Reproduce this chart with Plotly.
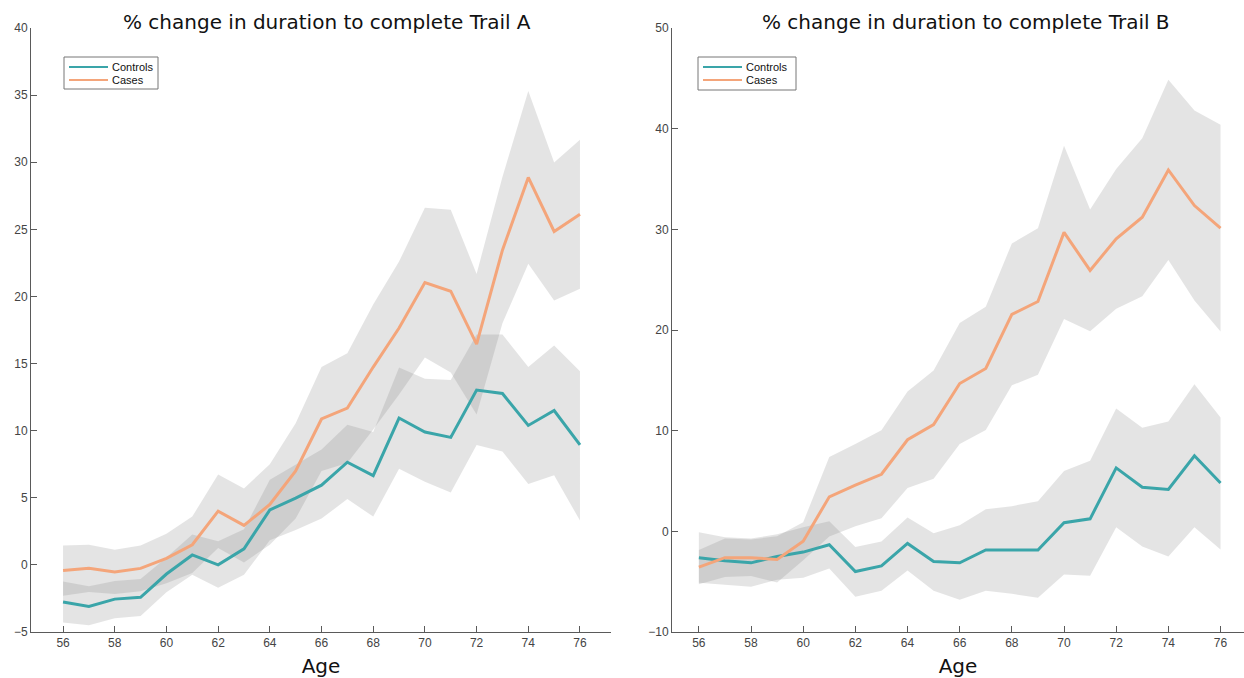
import plotly.graph_objects as go

ages = list(range(56, 77))

# Trail A: mean % change and confidence band
a_controls = [-2.77, -3.10, -2.55, -2.42, -0.68, 0.74, 0.00, 1.20, 4.10, 4.97, 5.94,
              7.65, 6.65, 10.94, 9.90, 9.50, 13.03, 12.77, 10.39, 11.50, 8.94]
a_controls_hi = [-1.24, -1.60, -1.20, -1.06, 0.55, 2.26, 1.77, 2.65, 6.35, 7.50, 8.60,
                 10.45, 9.90, 14.70, 13.87, 13.77, 17.16, 17.16, 14.74, 16.35, 14.42]
a_controls_lo = [-4.30, -4.50, -3.97, -3.80, -2.03, -0.74, -1.70, -0.74, 1.84, 2.60, 3.45,
                 4.90, 3.60, 7.16, 6.20, 5.40, 8.94, 8.45, 6.03, 6.68, 3.30]
a_cases = [-0.42, -0.26, -0.52, -0.26, 0.48, 1.50, 4.00, 2.94, 4.50, 7.00, 10.87,
           11.68, 14.74, 17.65, 21.03, 20.39, 16.45, 23.45, 28.87, 24.84, 26.13]
a_cases_hi = [1.45, 1.50, 1.13, 1.45, 2.32, 3.60, 6.74, 5.70, 7.50, 10.55, 14.74,
              15.77, 19.40, 22.60, 26.60, 26.45, 21.68, 28.90, 35.30, 29.97, 31.68]
a_cases_lo = [-2.29, -2.02, -2.17, -1.97, -1.36, -0.60, 1.26, 0.18, 1.50, 3.45, 7.00,
              7.59, 10.08, 12.70, 15.46, 14.33, 11.20, 18.00, 22.44, 19.70, 20.58]

# Trail B: mean % change and confidence band
b_controls = [-2.62, -2.92, -3.13, -2.49, -2.06, -1.33, -3.99, -3.43, -1.20, -3.00, -3.13,
              -1.85, -1.85, -1.85, 0.86, 1.24, 6.30, 4.38, 4.16, 7.50, 4.80]
b_controls_hi = [-0.10, -0.60, -0.70, -0.30, 0.40, 1.00, -1.55, -1.00, 1.37, -0.20, 0.60,
                 2.20, 2.50, 3.00, 6.00, 7.00, 12.20, 10.30, 10.90, 14.60, 11.30]
b_controls_lo = [-5.10, -5.30, -5.50, -4.80, -4.60, -3.70, -6.50, -5.90, -3.90, -5.90, -6.80,
                 -5.90, -6.20, -6.60, -4.30, -4.40, 0.40, -1.50, -2.50, 0.40, -1.80]
b_cases = [-3.56, -2.62, -2.62, -2.79, -0.99, 3.43, 4.59, 5.67, 9.10, 10.60, 14.68,
           16.18, 21.55, 22.83, 29.70, 25.92, 29.06, 31.20, 35.90, 32.36, 30.13]
b_cases_hi = [-1.86, -0.70, -0.80, -0.50, 0.90, 7.38, 8.67, 10.04, 13.90, 15.97, 20.69,
              22.30, 28.60, 30.10, 38.30, 31.97, 36.00, 39.05, 44.85, 41.80, 40.40]
b_cases_lo = [-5.26, -4.54, -4.44, -5.08, -2.88, -0.52, 0.51, 1.30, 4.30, 5.23, 8.67,
              10.06, 14.50, 15.56, 21.10, 19.87, 22.12, 23.35, 26.95, 22.92, 19.86]

series_names = ["Controls", "Cases"]
titles = ["% change in duration to complete Trail A",
          "% change in duration to complete Trail B"]

TEAL = "#3aa5a9"
ORANGE = "#f4a57a"
BAND = "rgba(128,128,128,0.21)"
W, H = 1244, 678

panels = [
    dict(xaxis="x", yaxis="y",
         series=[(a_controls, a_controls_lo, a_controls_hi), (a_cases, a_cases_lo, a_cases_hi)],
         legend_box=(64, 57, 158, 89), title_x=327),
    dict(xaxis="x2", yaxis="y2",
         series=[(b_controls, b_controls_lo, b_controls_hi), (b_cases, b_cases_lo, b_cases_hi)],
         legend_box=(698, 57, 796, 90), title_x=966),
]
colors = [TEAL, ORANGE]

fig = go.Figure()
shapes, annotations = [], []
title_font = dict(family="DejaVu Sans, Verdana, sans-serif", size=20, color="#111111")
legend_font = dict(family="Liberation Sans, Arial, sans-serif", size=11, color="#111111")


def px(x, y):
    """Pixel position -> paper coordinates."""
    return x / W, 1 - y / H


for k, p in enumerate(panels):
    # shaded bands first, so the mean lines sit on top
    for mean, lo, hi in p["series"]:
        fig.add_trace(go.Scatter(
            x=ages + ages[::-1], y=hi + lo[::-1],
            fill="toself", fillcolor=BAND, line=dict(width=0),
            mode="lines", hoverinfo="skip", showlegend=False,
            xaxis=p["xaxis"], yaxis=p["yaxis"]))
    for (mean, lo, hi), name, color in zip(p["series"], series_names, colors):
        fig.add_trace(go.Scatter(
            x=ages, y=mean, mode="lines", name=name, showlegend=False,
            line=dict(color=color, width=3),
            xaxis=p["xaxis"], yaxis=p["yaxis"]))

    # compact boxed legend in the upper-left corner of each panel
    x0, y0, x1, y1 = p["legend_box"]
    bx0, by0 = px(x0, y0)
    bx1, by1 = px(x1, y1)
    shapes.append(dict(type="rect", xref="paper", yref="paper", x0=bx0, x1=bx1, y0=by1, y1=by0,
                       line=dict(color="#777777", width=1), fillcolor="white", layer="above"))
    for i, (name, color) in enumerate(zip(series_names, colors)):
        ly = y0 + 10 + 13 * i
        lx0, lyp = px(x0 + 5, ly)
        lx1, _ = px(x0 + 44, ly)
        shapes.append(dict(type="line", xref="paper", yref="paper", x0=lx0, x1=lx1, y0=lyp, y1=lyp,
                           line=dict(color=color, width=2), layer="above"))
        tx, _ = px(x0 + 46, ly)
        annotations.append(dict(text=name, x=tx, y=lyp, xref="paper", yref="paper",
                                showarrow=False, xanchor="left", yanchor="middle",
                                font=legend_font))

    tx, ty = px(p["title_x"], 22)
    annotations.append(dict(text=titles[k], x=tx, y=ty, xref="paper", yref="paper",
                            showarrow=False, font=title_font, xanchor="center", yanchor="middle"))

tick_font = dict(family="Liberation Sans, Arial, sans-serif", size=12, color="#444444")
axis_common = dict(
    showgrid=False, zeroline=False, showline=True, linecolor="#5a5a5a", linewidth=1,
    ticks="inside", ticklen=6, tickcolor="#5a5a5a", tickfont=tick_font, automargin=False,
)

fig.update_layout(
    width=W, height=H,
    margin=dict(l=0, r=0, t=0, b=0, autoexpand=False),
    paper_bgcolor="white", plot_bgcolor="white",
    showlegend=False,
    xaxis=dict(domain=[31 / W, 611 / W], range=[54.76, 77.2],
               tickvals=list(range(56, 77, 2)), anchor="y",
               title=dict(text="Age", font=title_font, standoff=9), **axis_common),
    yaxis=dict(domain=[46 / H, 650 / H], range=[-5, 40],
               tickvals=list(range(-5, 41, 5)), anchor="x", **axis_common),
    xaxis2=dict(domain=[672 / W, 1.0], range=[54.97, 76.9],
                tickvals=list(range(56, 77, 2)), anchor="y2",
                title=dict(text="Age", font=title_font, standoff=9), **axis_common),
    yaxis2=dict(domain=[46 / H, 650 / H], range=[-10, 50],
                tickvals=list(range(-10, 51, 10)), anchor="x2", **axis_common),
    shapes=shapes,
    annotations=annotations,
)

fig.write_html("out.html")
